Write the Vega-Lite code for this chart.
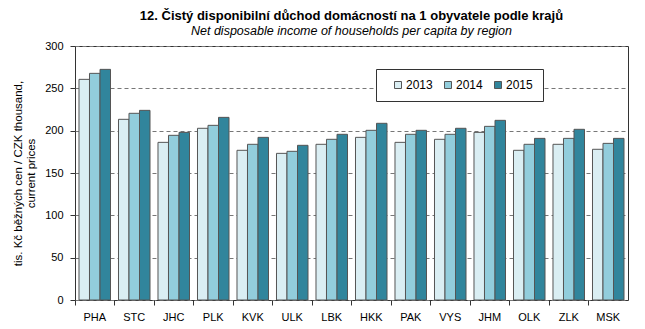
{
  "$schema": "https://vega.github.io/schema/vega-lite/v6.json",
  "width": 553,
  "height": 254,
  "autosize": {"type": "none"},
  "padding": {"left": 75, "top": 46, "right": 17, "bottom": 29},
  "background": "white",
  "title": {
    "text": "12. Čistý  disponibilní  důchod domácností  na 1 obyvatele  podle krajů",
    "subtitle": "Net disposable  income  of households  per capita  by region",
    "anchor": "middle",
    "frame": "group",
    "font": "Liberation Sans",
    "fontSize": 13,
    "fontWeight": "bold",
    "color": "#000",
    "subtitleFont": "Liberation Sans",
    "subtitleFontSize": 12.5,
    "subtitleFontStyle": "italic",
    "subtitleColor": "#000",
    "subtitlePadding": 2,
    "offset": 3
  },
  "config": {
    "view": {"stroke": "#333", "strokeWidth": 1},
    "axis": {
      "labelFont": "Liberation Sans",
      "labelFontSize": 11,
      "labelColor": "#000",
      "titleFont": "Liberation Sans",
      "titleColor": "#000",
      "domainColor": "#333",
      "tickColor": "#333"
    }
  },
  "data": {
    "values": [
      {"region": "PHA", "year": "2013", "value": 260.6},
      {"region": "PHA", "year": "2014", "value": 267.7},
      {"region": "PHA", "year": "2015", "value": 272.4},
      {"region": "STC", "year": "2013", "value": 213.4},
      {"region": "STC", "year": "2014", "value": 220.5},
      {"region": "STC", "year": "2015", "value": 224.0},
      {"region": "JHC", "year": "2013", "value": 186.2},
      {"region": "JHC", "year": "2014", "value": 194.5},
      {"region": "JHC", "year": "2015", "value": 198.0},
      {"region": "PLK", "year": "2013", "value": 202.8},
      {"region": "PLK", "year": "2014", "value": 206.3},
      {"region": "PLK", "year": "2015", "value": 215.7},
      {"region": "KVK", "year": "2013", "value": 176.8},
      {"region": "KVK", "year": "2014", "value": 183.9},
      {"region": "KVK", "year": "2015", "value": 192.1},
      {"region": "ULK", "year": "2013", "value": 173.2},
      {"region": "ULK", "year": "2014", "value": 175.6},
      {"region": "ULK", "year": "2015", "value": 182.7},
      {"region": "LBK", "year": "2013", "value": 183.9},
      {"region": "LBK", "year": "2014", "value": 189.8},
      {"region": "LBK", "year": "2015", "value": 195.7},
      {"region": "HKK", "year": "2013", "value": 192.1},
      {"region": "HKK", "year": "2014", "value": 200.4},
      {"region": "HKK", "year": "2015", "value": 208.7},
      {"region": "PAK", "year": "2013", "value": 186.2},
      {"region": "PAK", "year": "2014", "value": 195.7},
      {"region": "PAK", "year": "2015", "value": 200.4},
      {"region": "VYS", "year": "2013", "value": 189.8},
      {"region": "VYS", "year": "2014", "value": 195.7},
      {"region": "VYS", "year": "2015", "value": 202.8},
      {"region": "JHM", "year": "2013", "value": 198.0},
      {"region": "JHM", "year": "2014", "value": 205.1},
      {"region": "JHM", "year": "2015", "value": 212.2},
      {"region": "OLK", "year": "2013", "value": 176.8},
      {"region": "OLK", "year": "2014", "value": 183.9},
      {"region": "OLK", "year": "2015", "value": 190.9},
      {"region": "ZLK", "year": "2013", "value": 183.9},
      {"region": "ZLK", "year": "2014", "value": 190.9},
      {"region": "ZLK", "year": "2015", "value": 201.6},
      {"region": "MSK", "year": "2013", "value": 178.0},
      {"region": "MSK", "year": "2014", "value": 185.0},
      {"region": "MSK", "year": "2015", "value": 190.9}
    ]
  },
  "mark": {"type": "bar", "stroke": "#555", "strokeWidth": 1},
  "encoding": {
    "x": {
      "field": "region",
      "type": "nominal",
      "sort": null,
      "scale": {"paddingInner": 0, "paddingOuter": 0},
      "axis": {
        "title": null,
        "labelAngle": 0,
        "bandPosition": 0,
        "tickSize": 5,
        "labelPadding": 6,
        "domain": false
      }
    },
    "xOffset": {
      "field": "year",
      "type": "nominal",
      "scale": {"paddingInner": 0, "paddingOuter": 0.38}
    },
    "y": {
      "field": "value",
      "type": "quantitative",
      "scale": {"domain": [0, 300], "nice": false},
      "axis": {
        "values": [0, 50, 100, 150, 200, 250, 300],
        "title": ["tis. Kč běžných cen / CZK thousand,", "current prices"],
        "titleFontSize": 11.5,
        "titleFontWeight": "normal",
        "titlePadding": 8,
        "tickSize": 5,
        "labelPadding": 7,
        "grid": true,
        "gridColor": "#777",
        "gridDash": [4, 3],
        "gridWidth": 1,
        "domain": false
      }
    },
    "color": {
      "field": "year",
      "type": "nominal",
      "scale": {"domain": ["2013", "2014", "2015"], "range": ["#DAEEF3", "#92CDDC", "#31859C"]},
      "legend": {
        "title": null,
        "orient": "none",
        "direction": "horizontal",
        "legendX": 301,
        "legendY": 23,
        "symbolType": "square",
        "symbolSize": 49,
        "symbolStrokeColor": "#555",
        "symbolStrokeWidth": 1,
        "symbolOffset": 6,
        "labelFont": "Liberation Sans",
        "labelFontSize": 12,
        "labelColor": "#000",
        "labelOffset": 2,
        "columnPadding": 3,
        "strokeColor": "#333",
        "fillColor": "white",
        "padding": 10
      }
    }
  }
}
